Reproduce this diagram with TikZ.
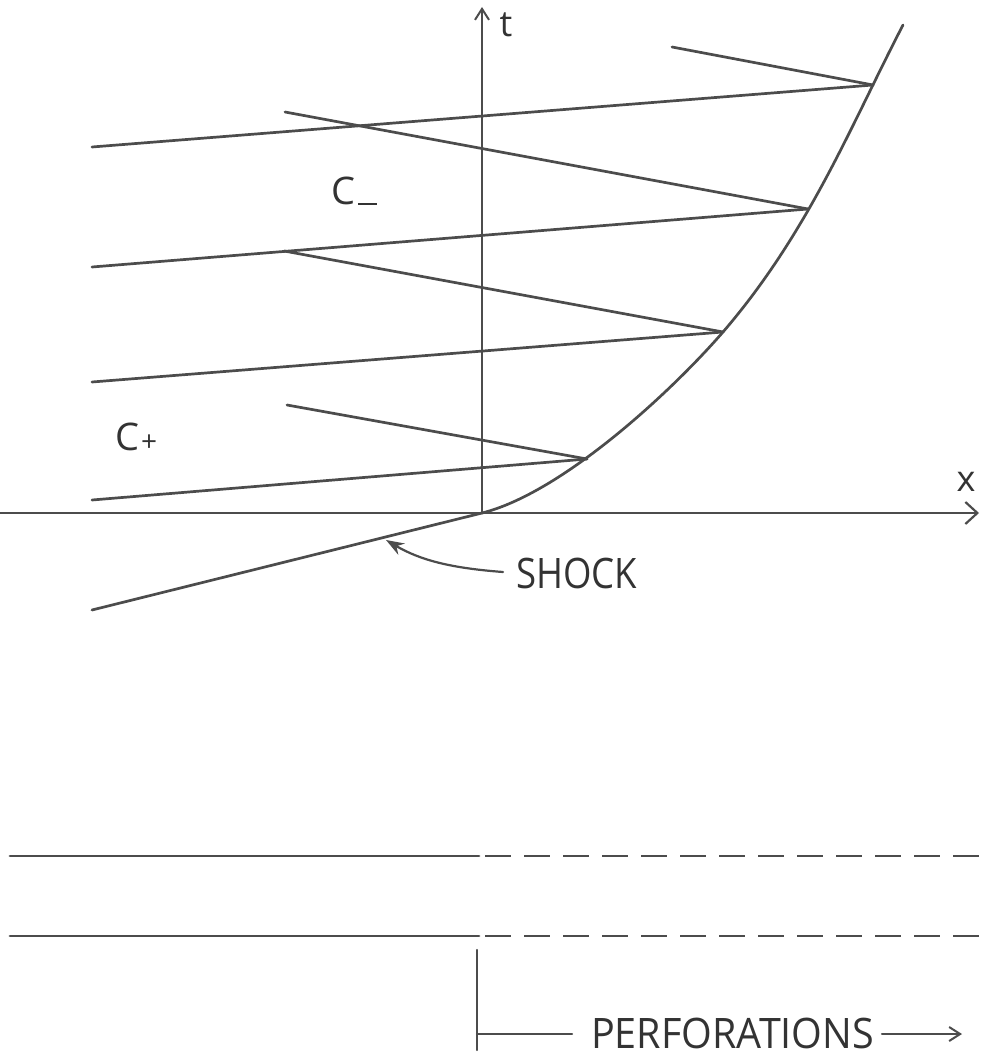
\documentclass[tikz,border=0pt]{standalone}
\usepackage{fontspec}
\setmainfont{Open Sans}
\usetikzlibrary{arrows.meta}
\begin{document}
\begin{tikzpicture}[x=1pt,y=-1pt,
  ink/.style={line width=2.7pt,draw=black!70,line cap=round},
  thin/.style={line width=2.2pt,draw=black!70,line cap=round},
  dashline/.style={line width=2.7pt,draw=black!70,dash pattern=on 26pt off 13pt},
  lbl/.style={inner sep=0pt,text=black!80,font=\fontsize{42}{42}\selectfont},
  barb/.style={-{Straight Barb[length=12pt,width=22pt,line width=2.2pt]}},
  sbarb/.style={-{Straight Barb[length=11pt,width=14pt,line width=2pt]}}]
\useasboundingbox (0,0) rectangle (980,1056);
% named points
\coordinate (O) at (482,513);
\coordinate (S1) at (587,459);
\coordinate (S2) at (723,332);
\coordinate (S3) at (808,209);
\coordinate (S4) at (873,85);
\coordinate (Stop) at (903,25);
\coordinate (Sbot) at (92,610);
% axes
\coordinate (xL) at (0,513);
\coordinate (xR) at (979,513);
\coordinate (tT) at (482,7);
\draw[ink,barb] (xL) -- (xR);
\draw[ink,sbarb] (O) -- (tT);
\node[lbl,font=\fontsize{36}{36}\selectfont] (tlab) at (506,25) {t};
\node[lbl,font=\fontsize{36}{36}\selectfont] (xlab) at (966,482) {x};
% shock
\draw[ink] (Sbot) -- (O);
\draw[ink] (O) .. controls (562,493) and (671,392) .. (S2)
              .. controls (809,232) and (851,125) .. (Stop);
% C+ characteristics
\coordinate (P1) at (92,500);
\coordinate (P2) at (92,382);
\coordinate (P3) at (92,267);
\coordinate (P4) at (92,147);
\draw[ink] (P1) -- (S1);
\draw[ink] (P2) -- (S2);
\draw[ink] (P3) -- (S3);
\draw[ink] (P4) -- (S4);
% C- characteristics
\coordinate (M1) at (287,405);
\coordinate (M2) at (284,251);
\coordinate (M3) at (285,112);
\coordinate (M4) at (672,47);
\draw[ink] (M1) -- (S1);
\draw[ink] (M2) -- (S2);
\draw[ink] (M3) -- (S3);
\draw[ink] (M4) -- (S4);
% labels
\node[lbl,anchor=base west,font=\fontsize{38}{38}\selectfont] (cminus) at (331,205) {C\kern3pt\rule{19pt}{2.2pt}};
\node[lbl,anchor=base west,font=\fontsize{38}{38}\selectfont] (cplus) at (115,450) {C\kern2pt\raisebox{-1pt}{\fontsize{28}{28}\selectfont +}};
% SHOCK label
\node[lbl,anchor=base west,xscale=0.87] (shock) at (516,588) {SHOCK};
\coordinate (sa) at (503,572);
\coordinate (stip) at (386,540);
\draw[thin,-{Stealth[length=18pt,width=13pt]}] (sa) .. controls (450,568) and (420,560) .. (stip);
% tube walls
\coordinate (w1a) at (10,856);
\coordinate (w1b) at (479,856);
\coordinate (w1c) at (485,856);
\coordinate (w1d) at (980,856);
\coordinate (w2a) at (10,936);
\coordinate (w2b) at (479,936);
\coordinate (w2c) at (485,936);
\coordinate (w2d) at (980,936);
\draw[ink] (w1a) -- (w1b);
\draw[dashline] (w1c) -- (w1d);
\draw[ink] (w2a) -- (w2b);
\draw[dashline] (w2c) -- (w2d);
% perforations marker
\coordinate (pa) at (477,950);
\coordinate (pb) at (477,1050);
\coordinate (pc) at (477,1034);
\coordinate (pd) at (572,1034);
\coordinate (pe) at (882,1034);
\coordinate (pf) at (962,1034);
\draw[thin] (pa) -- (pb);
\draw[thin] (pc) -- (pd);
\node[lbl,anchor=base west,xscale=0.94] (perf) at (591,1048) {PERFORATIONS};
\draw[thin,sbarb] (pe) -- (pf);
\end{tikzpicture}
\end{document}
